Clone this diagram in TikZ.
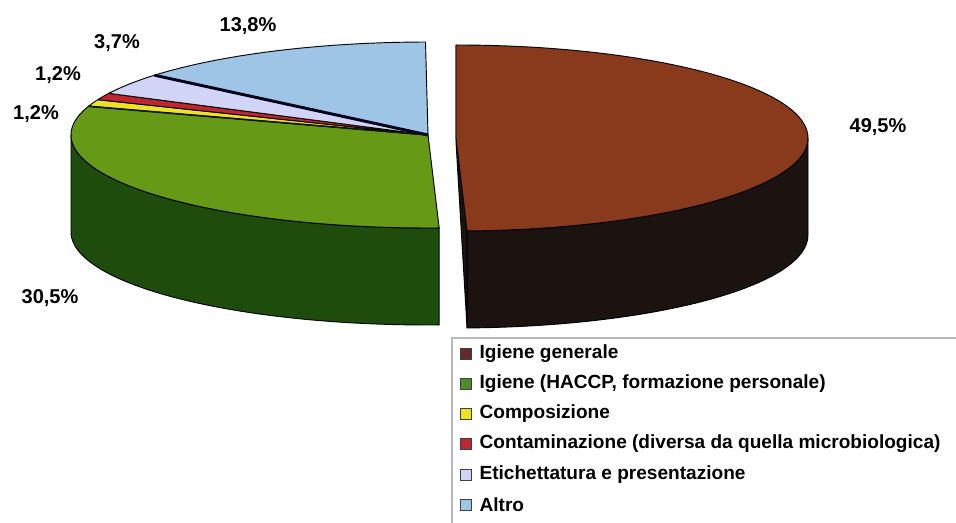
\documentclass[tikz,border=0pt]{standalone}
\usepackage{fontspec}
\setmainfont{Liberation Sans}
\usetikzlibrary{positioning}

\definecolor{igienetop}{RGB}{138,58,28}
\definecolor{igieneside}{RGB}{26,19,16}
\definecolor{haccptop}{RGB}{102,153,22}
\definecolor{haccpside}{RGB}{30,76,12}
\definecolor{composiz}{RGB}{238,226,40}
\definecolor{contamin}{RGB}{190,38,48}
\definecolor{etichett}{RGB}{208,212,246}
\definecolor{altro}{RGB}{158,197,230}
\definecolor{legbrown}{RGB}{100,42,40}
\definecolor{leggreen}{RGB}{78,140,46}
\definecolor{legline}{RGB}{185,185,185}

% pie depth and vertical radius (pixels)
\def\pb{93}
\def\pd{97}

% top face: colour, cx, cy, x radius, from angle, to angle
\newcommand{\slicetop}[6]{%
  \draw[face, fill=#1] (#2,#3) -- ({#2+#4*cos(#5)},{#3-\pb*sin(#5)})
    arc[start angle={-1*(#5)}, end angle={-1*(#6)}, x radius=#4, y radius=\pb] -- cycle;}
% outer wall: colour, cx, cy, x radius, from angle, to angle
\newcommand{\slicewall}[6]{%
  \draw[face, fill=#1] ({#2+#4*cos(#5)},{#3-\pb*sin(#5)})
    arc[start angle={-1*(#5)}, end angle={-1*(#6)}, x radius=#4, y radius=\pb]
    -- ++(0,\pd)
    arc[start angle={-1*(#6)}, end angle={-1*(#5)}, x radius=#4, y radius=\pb] -- cycle;}

\tikzset{
  face/.style={draw=black, line width=0.7pt, line join=round},
  pct/.style={font=\fontsize{15}{18}\selectfont\bfseries, inner sep=0.75pt},
  legtext/.style={font=\fontsize{14.3}{17}\selectfont\bfseries, anchor=west, inner sep=0.75pt},
  legkey/.style={draw=black!75, line width=0.5pt, minimum size=8pt, inner sep=0pt},
}

\begin{document}
\begin{tikzpicture}[x=0.75pt,y=0.75pt,yscale=-1,xscale=1]
\useasboundingbox (0,0) rectangle (956,523);

%% right piece: Igiene generale
% cut face
\draw[face, fill=igieneside] (456,{138-\pb}) -- ({456+352*cos(-88.2)},{138+\pb*sin(88.2)})
  -- ++(0,\pd) -- (456,{138-\pb+\pd}) -- cycle;
\slicewall{igieneside}{456}{138}{352}{-88.2}{0}
\slicetop{igienetop}{456}{138}{352}{-88.2}{90}

%% left piece
\slicewall{haccpside}{428}{135}{357}{180}{271.8}
\slicetop{haccptop}{428}{135}{357}{162}{271.8}
\slicetop{composiz}{428}{135}{357}{157.7}{162}
\slicetop{contamin}{428}{135}{357}{153.4}{157.7}
\slicetop{etichett}{428}{135}{357}{140}{153.4}
\slicetop{altro}{428}{135}{357}{90.4}{140}
% dark seams between the small slices
\draw[line width=2.2pt, black!90!blue] (428,135) -- ({428+357*cos(140)},{135-\pb*sin(140)});
\draw[line width=1.2pt, black!70!haccpside] (428,135) -- ({428+357*cos(162)},{135-\pb*sin(162)});

% percentages
\node[pct] (p495) at (878,127) {49,5\%};
\node[pct] (p305) at (50,298) {30,5\%};
\node[pct] (p138) at (248,26) {13,8\%};
\node[pct] (p37) at (117,43) {3,7\%};
\node[pct] (p12a) at (58,75) {1,2\%};
\node[pct] (p12b) at (36,114) {1,2\%};

%% legend
\draw[legline, line width=0.8pt] (452,523) -- (452,338) -- (956,338);
\node[legkey, fill=legbrown] (k1) at (466,354) {};
\node[legkey, fill=leggreen] (k2) at (466,384) {};
\node[legkey, fill=composiz] (k3) at (466,414) {};
\node[legkey, fill=contamin] (k4) at (466,444) {};
\node[legkey, fill=etichett] (k5) at (466,475) {};
\node[legkey, fill=altro] (k6) at (466,505) {};
\node[legtext, right=5pt of k1] (t1) {Igiene generale};
\node[legtext, right=5pt of k2] (t2) {Igiene (HACCP, formazione personale)};
\node[legtext, right=5pt of k3] (t3) {Composizione};
\node[legtext, right=5pt of k4] (t4) {Contaminazione (diversa da quella microbiologica)};
\node[legtext, right=5pt of k5] (t5) {Etichettatura e presentazione};
\node[legtext, right=5pt of k6] (t6) {Altro};

\end{tikzpicture}
\end{document}
